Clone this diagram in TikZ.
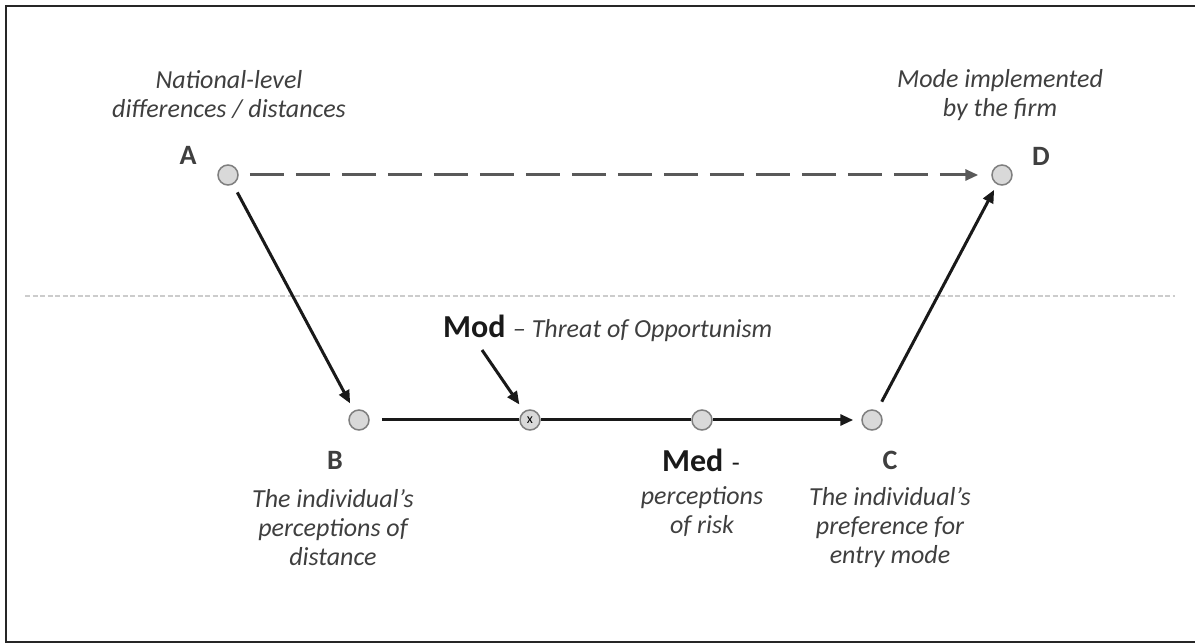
\documentclass[tikz,border=0pt]{standalone}
\usepackage{fontspec}
\setmainfont{Carlito}
\usetikzlibrary{arrows.meta}
\definecolor{txtgray}{HTML}{3F3F3F}
\definecolor{dotfill}{HTML}{D9D9D9}
\definecolor{dotline}{HTML}{7F7F7F}
\definecolor{dashgray}{HTML}{595959}
\begin{document}
\begin{tikzpicture}[x=1pt,y=-1pt,
    dot/.style={circle,draw=dotline,fill=dotfill,line width=1.5pt,minimum size=20pt,inner sep=0pt},
    letter/.style={font=\fontsize{28}{30}\selectfont\bfseries,text=txtgray},
    desc/.style={font=\fontsize{26}{29}\selectfont\itshape,text=txtgray,align=center},
    big/.style={font=\fontsize{32}{34}\selectfont\bfseries,text=black!90,inner sep=0pt},
    link/.style={line width=3pt,black!90},
    tip/.style={-{Triangle[length=13pt,width=11pt]}}]
    \useasboundingbox (0,0) rectangle (1195,644);
    \draw[line width=2pt,black!85] (1195,6) -- (6,6) -- (6,642) -- (1195,642);
    \draw[line width=1.5pt,black!20,dash pattern=on 5pt off 2.5pt] (25,296) -- (1175,296);

    % points
    \node[dot] (A) at (228,175) {};
    \node[dot] (D) at (1002,175) {};
    \node[dot] (B) at (359,420) {};
    \node[dot] (X) at (530,420) {\fontsize{14}{14}\selectfont x};
    \node[dot] (M) at (702,420) {};
    \node[dot] (C) at (872,420) {};

    % letters
    \node[letter] (Alab) at (188,155) {A};
    \node[letter] (Dlab) at (1041,156) {D};
    \node[letter] (Blab) at (335,460) {B};
    \node[letter] (Clab) at (890,460) {C};

    % texts
    \node[desc] (Atxt) at (229,95) {National-level\\differences / distances};
    \node[desc] (Dtxt) at (1000,95) {Mode implemented\\by the firm};
    \node[desc] (Btxt) at (333,528) {The individual’s\\perceptions of\\distance};
    \node[desc] (Ctxt) at (890,528) {The individual’s\\preference for\\entry mode};
    \node[big] (medlab) at (701,460) {Med\normalfont\fontsize{26}{29}\selectfont\,\,-};
    \node[desc] (Mtxt) at (702,512) {perceptions\\of risk};
    \node[big,anchor=base west] (modlab) at (443,338) {Mod};
    \node[desc,inner sep=0pt,anchor=base west,xshift=7pt] (threat) at (modlab.base east) {– Threat of Opportunism};
    \coordinate (modtail) at (482,350);

    % connectors
    \draw[line width=3pt,dashgray,dash pattern=on 34pt off 12pt,tip,shorten <=11pt,shorten >=13pt] (A) -- (D);
    \draw[link,tip,shorten <=9pt,shorten >=8pt] (A) -- (B);
    \draw[link,shorten <=12pt] (B) -- (X);
    \draw[link] (X) -- (M);
    \draw[link,tip,shorten >=8pt] (M) -- (C);
    \draw[link,tip,shorten <=10pt,shorten >=6pt] (C) -- (D);
    \draw[link,tip,shorten >=8pt] (modtail) -- (X);
\end{tikzpicture}
\end{document}
